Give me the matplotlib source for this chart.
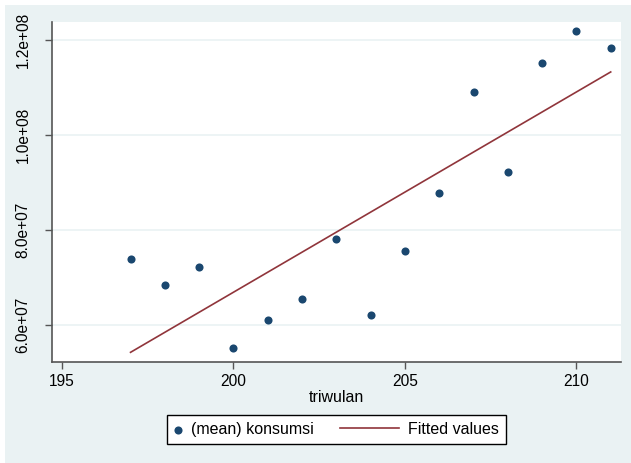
import numpy as np
import matplotlib
matplotlib.use("Agg")
import matplotlib.pyplot as plt
from matplotlib.patches import Rectangle
from matplotlib.legend_handler import HandlerLine2D

plt.rcParams['font.family'] = ['Liberation Sans', 'DejaVu Sans']

# data
triwulan = [197, 198, 199, 200, 201, 202, 203, 204, 205, 206, 207, 208, 209, 210, 211]
konsumsi = [7.39e7, 6.84e7, 7.22e7, 5.52e7, 6.10e7, 6.55e7, 7.81e7, 6.21e7,
            7.56e7, 8.78e7, 10.90e7, 9.22e7, 11.52e7, 12.19e7, 11.83e7]
xticks = [195, 200, 205, 210]
yticks = [6.0e7, 8.0e7, 1.0e8, 1.2e8]
ylabels = ['6.0e+07', '8.0e+07', '1.0e+08', '1.2e+08']

bg = '#eaf2f3'
navy = '#1a476f'
maroon = '#90353b'

x = np.array(triwulan)
y = np.array(konsumsi)
b, a = np.polyfit(x, y, 1)
fitted = a + b * x


class LongLine(HandlerLine2D):
    # legend line longer than the (short) common handle, stretched to the left
    def create_artists(self, legend, orig_handle, xdescent, ydescent,
                       width, height, fontsize, trans):
        arts = super().create_artists(legend, orig_handle, xdescent, ydescent,
                                      width, height, fontsize, trans)
        yd = np.asarray(arts[0].get_ydata())
        arts[0].set_data([-xdescent - 3.2 * fontsize, -xdescent + width], [yd[0], yd[0]])
        return arts


fig = plt.figure(figsize=(6.31, 4.63), dpi=100, facecolor=bg)
# thin white border of the screenshot
fig.patches.append(Rectangle((0, 1 - 5 / 463), 1, 5 / 463, transform=fig.transFigure, fc='white', ec='none'))
fig.patches.append(Rectangle((0, 0), 5 / 631, 1, transform=fig.transFigure, fc='white', ec='none'))

ax = fig.add_axes([52 / 631, 1 - 362 / 463, (621 - 52) / 631, (362 - 22) / 463])
ax.set_facecolor('white')

ax.scatter(x, y, s=34, color=navy, zorder=3, label='(mean) konsumsi', linewidths=0)
line, = ax.plot(x, fitted, color=maroon, lw=1.2, zorder=2, label='Fitted values')

ax.set_xlim(194.71, 211.3)
ax.set_ylim(5.22e7, 12.38e7)
ax.set_xticks(xticks)
ax.set_yticks(yticks)
ax.set_yticklabels(ylabels, rotation=90, va='center')
ax.grid(axis='y', color=bg, lw=1.2)
ax.set_axisbelow(True)

for s in ['top', 'right']:
    ax.spines[s].set_visible(False)
for s in ['left', 'bottom']:
    ax.spines[s].set_color('#555555')
    ax.spines[s].set_linewidth(1.2)
ax.tick_params(direction='out', length=5, width=1, color='#555555', labelsize=11.2)
ax.tick_params(axis='x', pad=3.6)
ax.tick_params(axis='y', pad=10.5)
ax.set_xlabel('triwulan', fontsize=11.5, labelpad=1)

fig.legend(loc='center', bbox_to_anchor=(336.5 / 631, 1 - 429.5 / 463), ncol=2,
           fontsize=11.5, frameon=True, fancybox=False, edgecolor='black',
           framealpha=1, columnspacing=4.8, handlelength=0.5, handletextpad=0.56,
           borderpad=0.45, handler_map={line: LongLine()})

fig.savefig('out.png', dpi=100, facecolor=bg)
